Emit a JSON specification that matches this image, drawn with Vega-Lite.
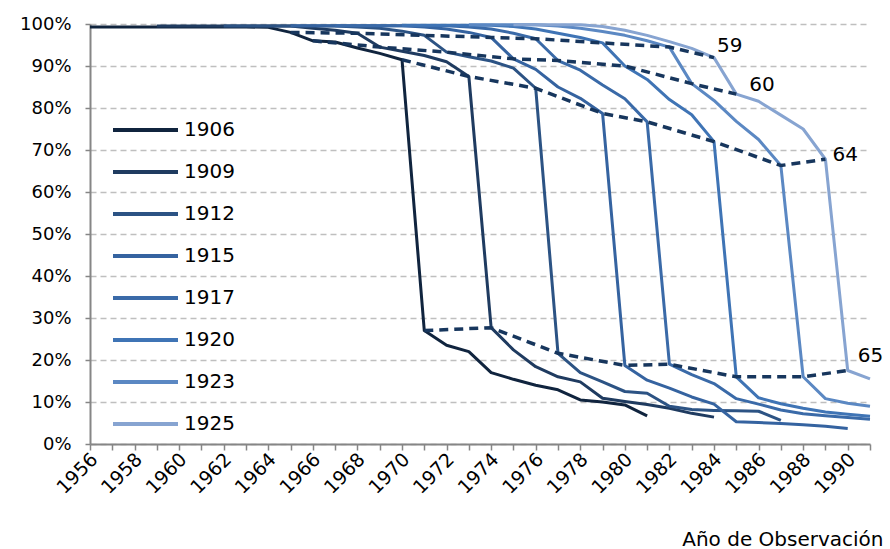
{
  "$schema": "https://vega.github.io/schema/vega-lite/v6.json",
  "width": 780,
  "height": 420,
  "autosize": "none",
  "padding": {"left": 90, "top": 24, "right": 20, "bottom": 105},
  "background": "white",
  "config": {"font": "DejaVu Sans", "view": {"stroke": null}},
  "datasets": {
    "cohorts": [
      {"c":"1906","year":1956,"v":99.3},{"c":"1906","year":1957,"v":99.3},{"c":"1906","year":1958,"v":99.3},{"c":"1906","year":1959,"v":99.3},{"c":"1906","year":1960,"v":99.3},{"c":"1906","year":1961,"v":99.3},{"c":"1906","year":1962,"v":99.3},{"c":"1906","year":1963,"v":99.3},{"c":"1906","year":1964,"v":99.2},{"c":"1906","year":1965,"v":98},{"c":"1906","year":1966,"v":96},{"c":"1906","year":1967,"v":95.7},{"c":"1906","year":1968,"v":94.3},{"c":"1906","year":1969,"v":93},{"c":"1906","year":1970,"v":91.5},{"c":"1906","year":1971,"v":27},{"c":"1906","year":1972,"v":23.5},{"c":"1906","year":1973,"v":22},{"c":"1906","year":1974,"v":17},{"c":"1906","year":1975,"v":15.4},{"c":"1906","year":1976,"v":14},{"c":"1906","year":1977,"v":12.9},{"c":"1906","year":1978,"v":10.5},{"c":"1906","year":1979,"v":10},{"c":"1906","year":1980,"v":9.3},{"c":"1906","year":1981,"v":6.7},
      {"c":"1909","year":1959,"v":99.5},{"c":"1909","year":1960,"v":99.5},{"c":"1909","year":1961,"v":99.5},{"c":"1909","year":1962,"v":99.5},{"c":"1909","year":1963,"v":99.5},{"c":"1909","year":1964,"v":99.5},{"c":"1909","year":1965,"v":99.5},{"c":"1909","year":1966,"v":99},{"c":"1909","year":1967,"v":98.5},{"c":"1909","year":1968,"v":97.8},{"c":"1909","year":1969,"v":94.5},{"c":"1909","year":1970,"v":93.5},{"c":"1909","year":1971,"v":92.5},{"c":"1909","year":1972,"v":91},{"c":"1909","year":1973,"v":87.5},{"c":"1909","year":1974,"v":27.7},{"c":"1909","year":1975,"v":22.4},{"c":"1909","year":1976,"v":18.4},{"c":"1909","year":1977,"v":16},{"c":"1909","year":1978,"v":14.8},{"c":"1909","year":1979,"v":10.9},{"c":"1909","year":1980,"v":10.1},{"c":"1909","year":1981,"v":9.4},{"c":"1909","year":1982,"v":8.5},{"c":"1909","year":1983,"v":7.3},{"c":"1909","year":1984,"v":6.4},
      {"c":"1912","year":1962,"v":99.5},{"c":"1912","year":1963,"v":99.5},{"c":"1912","year":1964,"v":99.5},{"c":"1912","year":1965,"v":99.5},{"c":"1912","year":1966,"v":99.5},{"c":"1912","year":1967,"v":99.5},{"c":"1912","year":1968,"v":99.3},{"c":"1912","year":1969,"v":99},{"c":"1912","year":1970,"v":98.3},{"c":"1912","year":1971,"v":97.3},{"c":"1912","year":1972,"v":93.3},{"c":"1912","year":1973,"v":92.2},{"c":"1912","year":1974,"v":91.2},{"c":"1912","year":1975,"v":89.5},{"c":"1912","year":1976,"v":84.7},{"c":"1912","year":1977,"v":21.6},{"c":"1912","year":1978,"v":17},{"c":"1912","year":1979,"v":14.8},{"c":"1912","year":1980,"v":12.5},{"c":"1912","year":1981,"v":12.1},{"c":"1912","year":1982,"v":9},{"c":"1912","year":1983,"v":8.2},{"c":"1912","year":1984,"v":8},{"c":"1912","year":1985,"v":7.9},{"c":"1912","year":1986,"v":7.8},{"c":"1912","year":1987,"v":5.6},
      {"c":"1915","year":1965,"v":99.6},{"c":"1915","year":1966,"v":99.6},{"c":"1915","year":1967,"v":99.6},{"c":"1915","year":1968,"v":99.6},{"c":"1915","year":1969,"v":99.6},{"c":"1915","year":1970,"v":99.6},{"c":"1915","year":1971,"v":99.3},{"c":"1915","year":1972,"v":98.8},{"c":"1915","year":1973,"v":98},{"c":"1915","year":1974,"v":96.8},{"c":"1915","year":1975,"v":91.7},{"c":"1915","year":1976,"v":89.2},{"c":"1915","year":1977,"v":85},{"c":"1915","year":1978,"v":82.3},{"c":"1915","year":1979,"v":78.7},{"c":"1915","year":1980,"v":18.7},{"c":"1915","year":1981,"v":15.2},{"c":"1915","year":1982,"v":13.3},{"c":"1915","year":1983,"v":11.2},{"c":"1915","year":1984,"v":9.5},{"c":"1915","year":1985,"v":5.3},{"c":"1915","year":1986,"v":5.1},{"c":"1915","year":1987,"v":4.9},{"c":"1915","year":1988,"v":4.6},{"c":"1915","year":1989,"v":4.2},{"c":"1915","year":1990,"v":3.7},
      {"c":"1917","year":1967,"v":99.6},{"c":"1917","year":1968,"v":99.6},{"c":"1917","year":1969,"v":99.6},{"c":"1917","year":1970,"v":99.6},{"c":"1917","year":1971,"v":99.6},{"c":"1917","year":1972,"v":99.6},{"c":"1917","year":1973,"v":99.3},{"c":"1917","year":1974,"v":98.8},{"c":"1917","year":1975,"v":97.8},{"c":"1917","year":1976,"v":96.5},{"c":"1917","year":1977,"v":91.3},{"c":"1917","year":1978,"v":89},{"c":"1917","year":1979,"v":85.5},{"c":"1917","year":1980,"v":82.2},{"c":"1917","year":1981,"v":76.7},{"c":"1917","year":1982,"v":19},{"c":"1917","year":1983,"v":16.5},{"c":"1917","year":1984,"v":14.4},{"c":"1917","year":1985,"v":10.8},{"c":"1917","year":1986,"v":9.5},{"c":"1917","year":1987,"v":8.1},{"c":"1917","year":1988,"v":7.2},{"c":"1917","year":1989,"v":6.7},{"c":"1917","year":1990,"v":6.3},{"c":"1917","year":1991,"v":5.9},
      {"c":"1920","year":1970,"v":99.7},{"c":"1920","year":1971,"v":99.7},{"c":"1920","year":1972,"v":99.7},{"c":"1920","year":1973,"v":99.7},{"c":"1920","year":1974,"v":99.7},{"c":"1920","year":1975,"v":99.4},{"c":"1920","year":1976,"v":98.8},{"c":"1920","year":1977,"v":97.8},{"c":"1920","year":1978,"v":96.8},{"c":"1920","year":1979,"v":95.5},{"c":"1920","year":1980,"v":90},{"c":"1920","year":1981,"v":86.8},{"c":"1920","year":1982,"v":82},{"c":"1920","year":1983,"v":78.4},{"c":"1920","year":1984,"v":72},{"c":"1920","year":1985,"v":16},{"c":"1920","year":1986,"v":11},{"c":"1920","year":1987,"v":9.6},{"c":"1920","year":1988,"v":8.5},{"c":"1920","year":1989,"v":7.6},{"c":"1920","year":1990,"v":7.1},{"c":"1920","year":1991,"v":6.6},
      {"c":"1923","year":1973,"v":99.8},{"c":"1923","year":1974,"v":99.8},{"c":"1923","year":1975,"v":99.8},{"c":"1923","year":1976,"v":99.8},{"c":"1923","year":1977,"v":99.5},{"c":"1923","year":1978,"v":99},{"c":"1923","year":1979,"v":98.2},{"c":"1923","year":1980,"v":97.3},{"c":"1923","year":1981,"v":96},{"c":"1923","year":1982,"v":94.5},{"c":"1923","year":1983,"v":85.8},{"c":"1923","year":1984,"v":81.8},{"c":"1923","year":1985,"v":76.8},{"c":"1923","year":1986,"v":72.5},{"c":"1923","year":1987,"v":66.3},{"c":"1923","year":1988,"v":16},{"c":"1923","year":1989,"v":10.8},{"c":"1923","year":1990,"v":9.7},{"c":"1923","year":1991,"v":9},
      {"c":"1925","year":1975,"v":99.8},{"c":"1925","year":1976,"v":99.8},{"c":"1925","year":1977,"v":99.8},{"c":"1925","year":1978,"v":99.8},{"c":"1925","year":1979,"v":99.4},{"c":"1925","year":1980,"v":98.5},{"c":"1925","year":1981,"v":97.3},{"c":"1925","year":1982,"v":95.8},{"c":"1925","year":1983,"v":94.2},{"c":"1925","year":1984,"v":92},{"c":"1925","year":1985,"v":83.3},{"c":"1925","year":1986,"v":81.6},{"c":"1925","year":1987,"v":78.3},{"c":"1925","year":1988,"v":75},{"c":"1925","year":1989,"v":67.8},{"c":"1925","year":1990,"v":17.5},{"c":"1925","year":1991,"v":15.5}
    ],
    "ages": [
      {"a":"59","year":1965,"v":98},{"a":"59","year":1968,"v":97.8},{"a":"59","year":1971,"v":97.3},{"a":"59","year":1974,"v":96.8},{"a":"59","year":1976,"v":96.5},{"a":"59","year":1979,"v":95.5},{"a":"59","year":1982,"v":94.5},{"a":"59","year":1984,"v":92},
      {"a":"60","year":1966,"v":96},{"a":"60","year":1969,"v":94.5},{"a":"60","year":1972,"v":93.3},{"a":"60","year":1975,"v":91.7},{"a":"60","year":1977,"v":91.3},{"a":"60","year":1980,"v":90},{"a":"60","year":1983,"v":85.8},{"a":"60","year":1985,"v":83.3},
      {"a":"64","year":1970,"v":91.5},{"a":"64","year":1973,"v":87.5},{"a":"64","year":1976,"v":84.7},{"a":"64","year":1979,"v":78.7},{"a":"64","year":1981,"v":76.7},{"a":"64","year":1984,"v":72},{"a":"64","year":1987,"v":66.3},{"a":"64","year":1989,"v":67.8},
      {"a":"65","year":1971,"v":27},{"a":"65","year":1974,"v":27.7},{"a":"65","year":1977,"v":21.6},{"a":"65","year":1980,"v":18.7},{"a":"65","year":1982,"v":19},{"a":"65","year":1985,"v":16},{"a":"65","year":1988,"v":16},{"a":"65","year":1990,"v":17.5}
    ],
    "vlines": [{"year":1966},{"year":1976}],
    "border": [{"year":1991}]
  },
  "encoding": {
    "x": {
      "field": "year", "type": "quantitative",
      "scale": {"domain": [1956, 1991], "nice": false, "zero": false},
      "title": "Año de Observación",
      "axis": {
        "values": [1956,1957,1958,1959,1960,1961,1962,1963,1964,1965,1966,1967,1968,1969,1970,1971,1972,1973,1974,1975,1976,1977,1978,1979,1980,1981,1982,1983,1984,1985,1986,1987,1988,1989,1990,1991],
        "labelExpr": "datum.value % 2 == 0 ? '' + datum.value : ''",
        "labelAngle": -45, "labelAlign": "right", "labelBaseline": "middle",
        "labelFontSize": 19, "labelColor": "#000000", "labelPadding": 6, "labelOffset": 4,
        "labelOverlap": false, "labelFlush": false, "labelBound": false,
        "tickSize": 6, "tickColor": "#868686", "tickWidth": 1.5,
        "domainColor": "#868686", "domainWidth": 2, "grid": false,
        "titleFontSize": 20, "titleFontWeight": "normal", "titleColor": "#000000",
        "titleAnchor": "end", "titleAlign": "right", "titleX": 793, "titleY": 101, "titleBaseline": "alphabetic"
      }
    },
    "y": {
      "field": "v", "type": "quantitative",
      "scale": {"domain": [0, 100], "nice": false},
      "title": null,
      "axis": {
        "values": [0,10,20,30,40,50,60,70,80,90,100],
        "labelExpr": "datum.value + '%'",
        "labelFontSize": 18, "labelColor": "#000000", "labelPadding": 14,
        "tickSize": 5, "tickColor": "#868686", "tickWidth": 1.5,
        "domainColor": "#868686", "domainWidth": 2,
        "grid": true, "gridColor": "#bfbfbf", "gridDash": [6, 4], "gridWidth": 1.5
      }
    }
  },
  "layer": [
    {
      "data": {"name": "vlines"},
      "mark": {"type": "rule", "color": "#808080", "strokeDash": [5, 4], "strokeWidth": 1.5},
      "encoding": {"y": {"datum": 0}, "y2": {"datum": 100}}
    },
    {
      "data": {"name": "border"},
      "mark": {"type": "rule", "color": "#a6a6a6", "strokeWidth": 2},
      "encoding": {"y": {"datum": 0}, "y2": {"datum": 100}}
    },
    {
      "data": {"name": "cohorts"},
      "mark": {"type": "line", "strokeWidth": 3, "strokeJoin": "round"},
      "encoding": {
        "color": {
          "field": "c", "type": "nominal",
          "scale": {
            "domain": ["1906","1909","1912","1915","1917","1920","1923","1925"],
            "range": ["#10243e","#1f3b60","#2c5384","#3563a0","#3a6aa8","#3f74b5","#5b88c3","#87a4d1"]
          },
          "legend": {
            "orient": "none", "legendX": 21, "legendY": 96, "title": null,
            "symbolType": "stroke", "symbolSize": 4225, "symbolStrokeWidth": 4,
            "clipHeight": 20, "rowPadding": 22, "padding": 0,
            "labelFontSize": 20, "labelOffset": 4, "labelColor": "#000000"
          }
        }
      }
    },
    {
      "data": {"name": "ages"},
      "mark": {"type": "line", "color": "#17365d", "strokeWidth": 3.5, "strokeDash": [9, 6]},
      "encoding": {"detail": {"field": "a", "type": "nominal"}}
    },
    {
      "data": {"values": [{"a": "59", "year": 1984, "v": 92}]},
      "mark": {"type": "text", "align": "left", "baseline": "middle", "dx": 3, "dy": -12, "fontSize": 20, "color": "#000000"},
      "encoding": {"text": {"field": "a"}}
    },
    {
      "data": {"values": [{"a": "60", "year": 1985, "v": 83.3}]},
      "mark": {"type": "text", "align": "left", "baseline": "middle", "dx": 13, "dy": -9, "fontSize": 20, "color": "#000000"},
      "encoding": {"text": {"field": "a"}}
    },
    {
      "data": {"values": [{"a": "64", "year": 1989, "v": 67.8}]},
      "mark": {"type": "text", "align": "left", "baseline": "middle", "dx": 7, "dy": -4, "fontSize": 20, "color": "#000000"},
      "encoding": {"text": {"field": "a"}}
    },
    {
      "data": {"values": [{"a": "65", "year": 1990, "v": 17.5}]},
      "mark": {"type": "text", "align": "left", "baseline": "middle", "dx": 10, "dy": -15, "fontSize": 20, "color": "#000000"},
      "encoding": {"text": {"field": "a"}}
    }
  ]
}
